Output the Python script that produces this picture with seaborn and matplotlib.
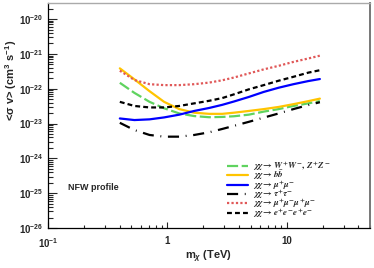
import matplotlib
matplotlib.use("Agg")
import matplotlib.pyplot as plt
import matplotlib.ticker as mticker
import pandas as pd
import seaborn as sns

# dark matter mass (TeV)
mass = [0.40, 0.53, 0.71, 0.94, 1.26, 1.68, 2.24, 2.89, 3.62, 4.82, 6.43, 8.58, 11.4, 15.2, 19.0]

# <sigma v> upper limits (cm^3 s^-1), one list per channel
sv_ww = [1.48e-22, 7.6e-23, 4.2e-23, 2.75e-23, 1.95e-23, 1.64e-23, 1.52e-23, 1.55e-23,
         1.62e-23, 1.8e-23, 2.2e-23, 2.6e-23, 3.2e-23, 3.8e-23, 4.4e-23]
sv_bb = [3.85e-22, 1.86e-22, 8.5e-23, 4.2e-23, 2.6e-23, 2.05e-23, 1.9e-23, 1.9e-23,
         2.05e-23, 2.3e-23, 2.6e-23, 3.0e-23, 3.6e-23, 4.4e-23, 5.2e-23]
sv_mumu = [1.4e-23, 1.26e-23, 1.32e-23, 1.5e-23, 1.8e-23, 2.3e-23, 2.8e-23, 3.45e-23,
           4.3e-23, 5.8e-23, 8.1e-23, 1.07e-22, 1.35e-22, 1.66e-22, 1.9e-22]
sv_tautau = [1.05e-23, 6.5e-24, 4.7e-24, 4.2e-24, 4.2e-24, 4.7e-24, 5.6e-24, 7.0e-24,
             8.6e-24, 1.12e-23, 1.48e-23, 1.95e-23, 2.6e-23, 3.4e-23, 4.1e-23]
sv_4mu = [3.3e-22, 1.78e-22, 1.35e-22, 1.27e-22, 1.27e-22, 1.35e-22, 1.5e-22, 1.75e-22,
          2.1e-22, 2.75e-22, 3.6e-22, 4.55e-22, 5.9e-22, 7.4e-22, 8.9e-22]
sv_4e = [4.2e-23, 3.2e-23, 2.9e-23, 2.9e-23, 3.2e-23, 3.8e-23, 4.5e-23, 5.4e-23,
         6.9e-23, 9.6e-23, 1.27e-22, 1.7e-22, 2.2e-22, 2.9e-22, 3.4e-22]

labels = [
    r"$\chi\chi \rightarrow W^{+}W^{-},\, Z^{+}Z^{-}$",
    r"$\chi\chi \rightarrow b\bar{b}$",
    r"$\chi\chi \rightarrow \mu^{+}\mu^{-}$",
    r"$\chi\chi \rightarrow \tau^{+}\tau^{-}$",
    r"$\chi\chi \rightarrow \mu^{+}\mu^{-}\mu^{+}\mu^{-}$",
    r"$\chi\chi \rightarrow e^{+}e^{-}e^{+}e^{-}$",
]
series = [sv_ww, sv_bb, sv_mumu, sv_tautau, sv_4mu, sv_4e]
colors = ["#5fd35f", "#ffc400", "#0000ff", "#000000", "#e05858", "#000000"]
dash_styles = [(5, 1.6), "", "", (5, 3, 0.4, 3), (1, 1), (2.2, 1.4)]

y_ticks = [1e-26, 1e-25, 1e-24, 1e-23, 1e-22, 1e-21, 1e-20]
y_tick_labels = [r"$10^{-26}$", r"$10^{-25}$", r"$10^{-24}$", r"$10^{-23}$",
                 r"$10^{-22}$", r"$10^{-21}$", r"$10^{-20}$"]
x_ticks = [0.1, 1, 10]
x_tick_labels = [r"$10^{-1}$", "1", "10"]

sns.set_style("ticks")
plt.rcParams["font.family"] = ["Liberation Sans", "DejaVu Sans"]
plt.rcParams["font.weight"] = "bold"
plt.rcParams["mathtext.fontset"] = "custom"
plt.rcParams["mathtext.rm"] = "Liberation Sans:bold"
plt.rcParams["mathtext.bf"] = "Liberation Sans:bold"
plt.rcParams["mathtext.it"] = "Liberation Sans:bold:italic"

fig = plt.figure(figsize=(3.74, 2.68), dpi=100)
ax = fig.add_axes([48 / 374, 40 / 268, 322 / 374, 225 / 268])

for vals, lab, col, dash in zip(series, labels, colors, dash_styles):
    df = pd.DataFrame({"mass": mass, "sv": vals})
    sns.lineplot(data=df, x="mass", y="sv", ax=ax, color=col, lw=1.6,
                 label=lab, legend=False)
    line = ax.lines[-1]
    if dash:
        line.set_dashes(dash)

ax.set_xscale("log")
ax.set_yscale("log")
ax.set_xlim(0.1, 50)
ax.set_ylim(1e-26, 2.9e-20)

ax.set_xticks(x_ticks, x_tick_labels)
ax.set_yticks(y_ticks, y_tick_labels)
ax.xaxis.set_minor_locator(mticker.LogLocator(base=10, subs=range(2, 10), numticks=20))
ax.yaxis.set_minor_locator(mticker.LogLocator(base=10, subs=range(2, 10), numticks=20))
ax.xaxis.set_minor_formatter(mticker.NullFormatter())
ax.yaxis.set_minor_formatter(mticker.NullFormatter())

ax.tick_params(axis="x", which="major", direction="in", length=4.5, width=0.8, pad=6, labelsize=7)
ax.tick_params(axis="x", which="minor", direction="in", length=2.3, width=0.8)
ax.tick_params(axis="y", which="major", direction="in", length=6.5, width=0.8, pad=3.5, labelsize=7)
ax.tick_params(axis="y", which="minor", direction="in", length=3.5, width=0.8)

for side in ["left", "bottom"]:
    ax.spines[side].set_color("black")
    ax.spines[side].set_linewidth(0.9)
ax.spines["top"].set_color("#aaaaaa")
ax.spines["right"].set_color("#777777")
ax.spines["top"].set_linewidth(1.0)
ax.spines["right"].set_linewidth(1.4)

ax.set_xlabel(r"m$_{\chi}$ (TeV)", fontsize=8, fontweight="bold", labelpad=-1)
ax.set_ylabel(r"<σ v> (cm$^{3}$ s$^{-1}$)", fontsize=8, fontweight="bold", loc="top")
ax.yaxis.set_label_coords(-0.09, 0.838)

ax.text(0.062, 0.178, "NFW profile", transform=ax.transAxes, fontsize=6.5,
        fontweight="bold", va="center", ha="left")

ax.legend(loc="upper left", bbox_to_anchor=(0.555, 0.305), frameon=False,
          borderpad=0, borderaxespad=0, handlelength=2.4, handletextpad=0.5,
          labelspacing=-0.45,
          prop={"family": "serif", "style": "italic", "size": 6.5,
                "math_fontfamily": "stix"})

fig.savefig("out.png", dpi=100)
